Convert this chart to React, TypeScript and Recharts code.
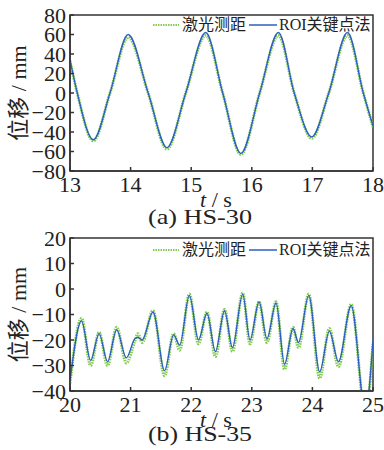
import React from 'react';
import { LineChart, Line, XAxis, YAxis, ReferenceArea, Legend } from 'recharts';

// (a) HS-30
const timeA = [13.0, 13.12, 13.385, 13.66, 13.96, 14.29, 14.6, 14.91, 15.24, 15.52, 15.82, 16.13, 16.44, 16.7, 16.99, 17.27, 17.58, 17.84, 18.0];
const roiA = [34, 0, -48, 0, 60, 0, -56, 0, 62, 0, -62, 0, 62, 0, -45, 0, 62, 0, -34];
const laserA = [33, 0, -49, 0, 57, 0, -57.5, 0, 59, 0, -63, 0, 59, 0, -46.5, 0, 59, 0, -35];
const xTicksA = [13, 14, 15, 16, 17, 18];
const yTicksA = [-80, -60, -40, -20, 0, 20, 40, 60, 80];

// (b) HS-35
const timeB = [20.0, 20.19, 20.34, 20.48, 20.62, 20.77, 20.93, 21.07, 21.12, 21.19, 21.37, 21.56, 21.71, 21.81, 21.97, 22.12, 22.26, 22.4, 22.55, 22.68, 22.85, 22.97, 23.12, 23.25, 23.4, 23.54, 23.68, 23.77, 23.94, 24.12, 24.28, 24.43, 24.64, 24.875, 25.0];
const roiB = [-36, -12.5, -28, -17.5, -28.5, -16, -27, -19.5, -19, -20, -9, -32, -18, -22, -2.5, -20, -9.5, -24.5, -8.5, -23, -2, -20, -5, -19.5, -5.5, -29.5, -15.5, -21, -2.5, -32.5, -16.5, -28.5, -6.5, -48, -20];
const laserB = [-37, -11.5, -30, -17, -30, -15, -29, -20.5, -17.5, -21, -8.5, -34, -17.5, -24, -2, -21.5, -9, -26.5, -8, -24.5, -1.5, -21.5, -5, -21, -5, -31.5, -15, -23, -2, -35, -15.5, -30.5, -6, -49, -21];
const xTicksB = [20, 21, 22, 23, 24, 25];
const yTicksB = [-40, -30, -20, -10, 0, 10, 20];

const FONT = '"Liberation Serif", "Times New Roman", "Noto Sans CJK SC", serif';
const BLUE = '#2c5fc2';
const GREEN = '#84cc52';
const AXIS = '#333';

const build = (t: number[], roi: number[], laser: number[]) =>
  t.map((v, i) => ({ t: v, roi: roi[i], laser: laser[i] }));

const fmt = (v: number) => String(v).replace('-', '\u2212');

const LegendBox = () => (
  <div style={{ display: 'flex', alignItems: 'center', fontFamily: FONT, fontSize: 16, color: '#222', lineHeight: '18px', whiteSpace: 'nowrap' }}>
    <svg width={26} height={6}>
      <line x1={0} y1={3} x2={26} y2={3} stroke={GREEN} strokeWidth={2} strokeDasharray="1.5 1" />
    </svg>
    <span style={{ marginLeft: 3, marginRight: 3 }}>激光测距</span>
    <svg width={28} height={6}>
      <line x1={0} y1={3} x2={28} y2={3} stroke={BLUE} strokeWidth={1.5} />
    </svg>
    <span style={{ marginLeft: 2 }}>ROI关键点法</span>
  </div>
);

type PanelProps = {
  data: { t: number; roi: number; laser: number }[];
  xTicks: number[];
  yTicks: number[];
  caption: string;
  height: number;
  marginTop: number;
  axisHeight: number;
  captionDy: number;
};

function Panel({ data, xTicks, yTicks, caption, height, marginTop, axisHeight, captionDy }: PanelProps) {
  const x0 = xTicks[0];
  const x1 = xTicks[xTicks.length - 1];
  const y0 = yTicks[0];
  const y1 = yTicks[yTicks.length - 1];
  return (
    <LineChart width={384} height={height} data={data} margin={{ top: marginTop, right: 11, bottom: 0, left: 0 }}>
      <XAxis
        dataKey="t"
        type="number"
        domain={[x0, x1]}
        ticks={xTicks}
        interval={0}
        allowDataOverflow
        height={axisHeight}
        tickSize={-4}
        tickMargin={9}
        stroke={AXIS}
        strokeWidth={1.5}
        tick={{ fill: '#222', fontSize: 22, fontFamily: FONT }}
        label={{
          content: (p: any) => {
            const vb = p.viewBox;
            return (
              <g fontFamily={FONT} fill="#222">
                <text x={216} y={vb.y + 28} fontSize={22} textAnchor="middle" dominantBaseline="central">
                  <tspan fontStyle="italic">t</tspan> / s
                </text>
                <text
                  x={200}
                  y={vb.y + captionDy}
                  fontSize={22}
                  textAnchor="middle"
                  dominantBaseline="central"
                  textLength={104}
                  lengthAdjust="spacingAndGlyphs"
                >
                  {caption}
                </text>
              </g>
            );
          },
        }}
      />
      <YAxis
        type="number"
        domain={[y0, y1]}
        ticks={yTicks}
        interval={0}
        allowDataOverflow
        width={70}
        tickSize={-4}
        tickMargin={8}
        stroke={AXIS}
        strokeWidth={1.5}
        tickFormatter={fmt}
        tick={{ fill: '#222', fontSize: 22, fontFamily: FONT }}
        label={{
          content: (p: any) => {
            const vb = p.viewBox;
            const cx = 18;
            const cy = vb.y + vb.height / 2;
            return (
              <text
                x={cx}
                y={cy}
                transform={`rotate(-90 ${cx} ${cy})`}
                textAnchor="middle"
                dominantBaseline="central"
                fontSize={22}
                fontFamily={FONT}
                fill="#222"
              >
                位移 / mm
              </text>
            );
          },
        }}
      />
      <ReferenceArea x1={x0} x2={x1} y1={y0} y2={y1} fill="none" stroke={AXIS} strokeWidth={1.5} fillOpacity={0} />
      <Line
        dataKey="laser"
        type="monotone"
        stroke={GREEN}
        strokeWidth={3}
        strokeDasharray="1.5 1"
        dot={false}
        isAnimationActive={false}
      />
      <Line dataKey="roi" type="monotone" stroke={BLUE} strokeWidth={1.4} dot={false} isAnimationActive={false} />
      <Legend
        layout="horizontal"
        verticalAlign="middle"
        align="center"
        content={() => <LegendBox />}
        wrapperStyle={{ left: 153, top: 16, width: 'auto', height: 18 }}
      />
    </LineChart>
  );
}

export default function App() {
  const dataA = build(timeA, roiA, laserA);
  const dataB = build(timeB, roiB, laserB);
  return (
    <div style={{ position: 'absolute', left: 0, top: 0, width: 384, height: 450, background: '#fff' }}>
      <div style={{ position: 'absolute', left: 0, top: 0, width: 384, height: 232 }}>
        <Panel data={dataA} xTicks={xTicksA} yTicks={yTicksA} caption="(a)  HS-30" height={232} marginTop={15} axisHeight={61} captionDy={45} />
      </div>
      <div style={{ position: 'absolute', left: 0, top: 225, width: 384, height: 225 }}>
        <Panel data={dataB} xTicks={xTicksB} yTicks={yTicksB} caption="(b)  HS-35" height={225} marginTop={13} axisHeight={59} captionDy={42} />
      </div>
    </div>
  );
}
